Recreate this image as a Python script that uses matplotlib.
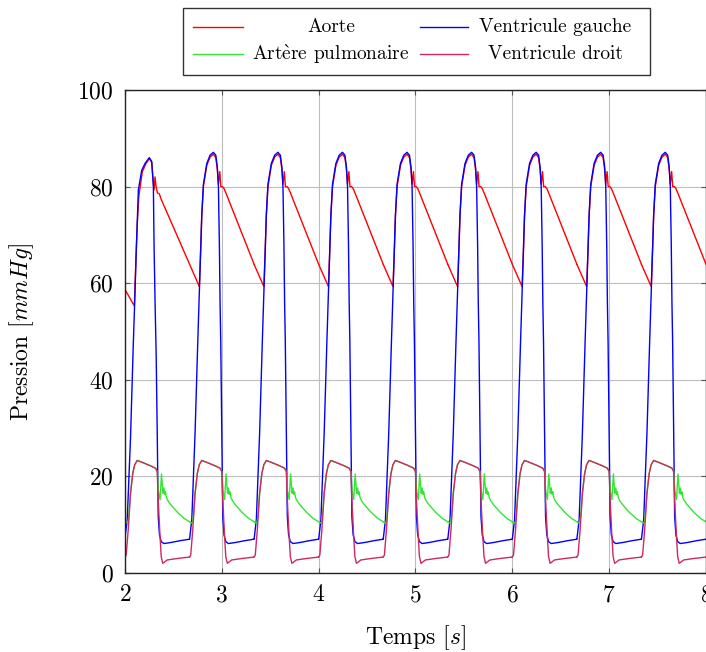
import numpy as np
import matplotlib
matplotlib.use("Agg")
import matplotlib.pyplot as plt
from matplotlib.lines import Line2D
from matplotlib.patches import Rectangle

plt.rcParams['font.family'] = ['cmr10', 'DejaVu Serif']
plt.rcParams['mathtext.fontset'] = 'cm'
plt.rcParams['axes.formatter.use_mathtext'] = True

# start of each heart cycle [s]
cycle_starts = [2.0, 2.6667, 3.3333, 4.0, 4.6667, 5.3333, 6.0, 6.6667, 7.3333]

# steady cycle, time from cycle start [s] and pressure [mmHg]
ao_tau = [0.000, 0.101, 0.115, 0.126, 0.143, 0.178, 0.212, 0.246, 0.271, 0.287,
          0.298, 0.312, 0.323, 0.340, 0.356, 0.377, 0.667]
ao_p = [63.9, 59.3, 67.0, 74.0, 80.0, 84.4, 86.1, 86.7, 86.0, 83.5,
        80.5, 83.1, 80.0, 80.0, 79.6, 78.6, 63.9]

lv_tau = [0.000, 0.023, 0.057, 0.085, 0.101, 0.115, 0.126, 0.143, 0.178, 0.212,
          0.246, 0.271, 0.287, 0.298, 0.308, 0.315, 0.322, 0.333, 0.343, 0.356,
          0.374, 0.401, 0.470, 0.573, 0.667]
lv_p = [7.0, 11.0, 29.0, 48.0, 58.0, 67.0, 74.0, 80.5, 84.8, 86.5,
        87.1, 86.5, 84.0, 80.0, 68.0, 56.0, 48.0, 29.0, 11.7, 7.9,
        6.5, 6.1, 6.3, 6.7, 7.0]

pa_tau = [0.000, 0.030, 0.040, 0.057, 0.080, 0.100, 0.126, 0.178, 0.263, 0.315,
          0.333, 0.345, 0.362, 0.377, 0.392, 0.402, 0.410, 0.418, 0.428, 0.445,
          0.470, 0.540, 0.610, 0.667]
pa_p = [10.6, 10.3, 12.0, 16.5, 20.6, 22.4, 23.3, 22.9, 22.2, 21.7,
        21.0, 17.0, 15.2, 20.5, 16.5, 17.6, 16.3, 16.8, 15.6, 14.9,
        14.2, 12.6, 11.3, 10.6]

rv_tau = [0.000, 0.012, 0.033, 0.057, 0.080, 0.100, 0.126, 0.178, 0.263, 0.315,
          0.333, 0.343, 0.360, 0.374, 0.390, 0.436, 0.539, 0.667]
rv_p = [3.3, 3.7, 8.9, 16.5, 20.6, 22.4, 23.3, 22.9, 22.2, 21.7,
        21.0, 15.1, 8.2, 3.4, 2.0, 2.7, 3.0, 3.3]

# first visible cycle (not yet steady) for the left side
ao1_tau = [0.000, 0.096, 0.101, 0.115, 0.126, 0.143, 0.178, 0.212, 0.251, 0.276,
           0.290, 0.300, 0.310, 0.321, 0.335, 0.355, 0.369, 0.667]
ao1_p = [58.7, 55.3, 58.0, 66.0, 72.0, 78.0, 83.0, 84.6, 85.8, 85.0,
         81.5, 79.3, 82.0, 80.0, 78.7, 78.5, 77.6, 63.9]

lv1_tau = [0.000, 0.023, 0.057, 0.085, 0.101, 0.115, 0.138, 0.173, 0.207, 0.251,
           0.276, 0.293, 0.300, 0.310, 0.322, 0.333, 0.343, 0.356, 0.374, 0.401,
           0.470, 0.573, 0.667]
lv1_p = [7.5, 11.0, 28.0, 47.0, 56.5, 66.0, 79.3, 83.4, 84.8, 86.0,
         85.2, 80.0, 68.0, 56.5, 45.0, 29.0, 11.7, 7.9, 6.5, 6.1,
         6.3, 6.7, 7.0]

names = ['Aorte', 'Ventricule gauche', r'Art$\mathrm{\grave{e}}$re pulmonaire', 'Ventricule droit']
colors = ['#ff0000', '#0000ff', '#33e633', '#d02860']

xticks = [2, 3, 4, 5, 6, 7, 8]
yticks = [0, 20, 40, 60, 80, 100]


def build(tau, p, tau1=None, p1=None):
    ts, ps = [], []
    for k, t0 in enumerate(cycle_starts):
        if k == 0 and tau1 is not None:
            a, b = tau1, p1
        else:
            a, b = tau, p
        ts.append(t0 + np.array(a))
        ps.append(np.array(b))
    return np.concatenate(ts), np.concatenate(ps)


series = [build(ao_tau, ao_p, ao1_tau, ao1_p),
          build(lv_tau, lv_p, lv1_tau, lv1_p),
          build(pa_tau, pa_p),
          build(rv_tau, rv_p)]

fig = plt.figure(figsize=(7.06, 6.52), dpi=100)
ax = fig.add_axes([125/706, 1-573/652, (706-125)/706, (573-90)/652])

for (t, p), c in zip(series, colors):
    ax.plot(t, p, color=c, lw=1.0)

ax.set_xlim(2, 8)
ax.set_ylim(0, 100)
ax.set_xticks(xticks)
ax.set_yticks(yticks)
ax.grid(True, color='#bdbdbd', lw=0.8)
ax.tick_params(direction='in', length=3.5, width=0.8, color='#555555',
               top=True, right=True, labelsize=17, pad=8)
for s in ax.spines.values():
    s.set_color('#222222')
    s.set_linewidth(1.0)

ax.set_xlabel('Temps [$s$]', fontsize=17, labelpad=12)
ax.set_ylabel('Pression [$mmHg$]', fontsize=17, labelpad=30)

# legend box, two columns
W, H = 706.0, 652.0
fig.add_artist(Rectangle((183/W, 1-75/H), (650-183)/W, (75-8)/H, transform=fig.transFigure,
                         facecolor='white', edgecolor='#333333', lw=1.0))
rows = [27, 54]
line_x = [(193, 243), (420, 468)]
text_x = [331, 555]
for i, (n, c) in enumerate(zip(names, colors)):
    r, col = i // 2, i % 2
    y = 1 - rows[r]/H
    fig.add_artist(Line2D([line_x[col][0]/W, line_x[col][1]/W], [y, y],
                          transform=fig.transFigure, color=c, lw=1.0))
    fig.text(text_x[col]/W, y, n, ha='center', va='center', fontsize=14)

fig.savefig('out.png', dpi=100)
